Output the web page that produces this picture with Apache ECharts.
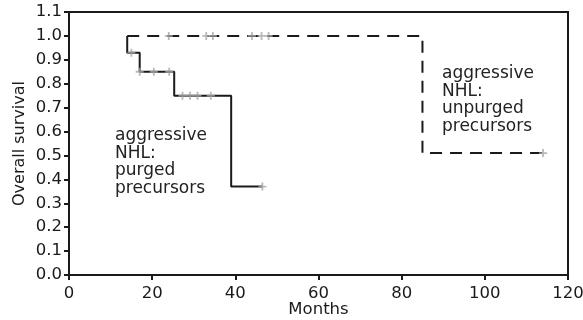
<!DOCTYPE html>
<html>
<head>
<meta charset="utf-8">
<script src="https://cdn.jsdelivr.net/npm/echarts@6/dist/echarts.min.js"></script>
<style>html,body{margin:0;padding:0;background:#fff}#c{width:583px;height:320px}</style>
</head>
<body>
<div id="c"></div>
<script>
// Kaplan-Meier steps [month, survival]
const purgedSteps = [[14, 1.0], [14, 0.93], [17, 0.85], [25.3, 0.75], [39, 0.37], [46.5, 0.37]];
const unpurgedSteps = [[14, 1.0], [85, 0.51], [114, 0.51]];
// censored observations
const purgedCensored = [[15, 0.93], [17, 0.85], [20.4, 0.85], [24.1, 0.85], [27.3, 0.75], [29.1, 0.75], [30.9, 0.75], [34.1, 0.75], [46.5, 0.37]];
const unpurgedCensored = [[24, 1.0], [33, 1.0], [34.6, 1.0], [44, 1.0], [46.3, 1.0], [48, 1.0], [114, 0.51]];
const xTicks = [0, 20, 40, 60, 80, 100, 120];

const FONT = 'DejaVu Sans';
const plus = 'path://M-0.9,-4H0.9V-0.9H4V0.9H0.9V4H-0.9V0.9H-4V-0.9H-0.9Z';
const chart = echarts.init(document.getElementById('c'), null, {renderer: 'canvas'});
chart.setOption({
  animation: false,
  grid: {left: 69, right: 15, top: 12, bottom: 45, show: true, borderColor: '#1a1a1a', borderWidth: 2,
         containLabel: false, outerBoundsMode: 'none'},
  xAxis: {
    type: 'value', min: 0, max: 120, interval: 20,
    name: 'Months', nameLocation: 'middle', nameGap: 26, nameMoveOverlap: false,
    nameTextStyle: {fontFamily: FONT, fontSize: 16.5, color: '#1a1a1a'},
    axisLine: {lineStyle: {color: '#1a1a1a', width: 2}},
    axisTick: {show: true, length: 5, lineStyle: {color: '#1a1a1a', width: 2}},
    axisLabel: {fontFamily: FONT, fontSize: 16.5, color: '#1a1a1a', margin: 10,
      formatter: v => xTicks.includes(v) ? String(v) : ''},
    splitLine: {show: false}
  },
  yAxis: {
    type: 'value', min: 0, max: 1.1, interval: 0.1,
    name: 'Overall survival', nameLocation: 'middle', nameGap: 41, nameMoveOverlap: false,
    nameTextStyle: {fontFamily: FONT, fontSize: 16, color: '#1a1a1a'},
    axisLine: {lineStyle: {color: '#1a1a1a', width: 2}},
    axisTick: {show: true, length: 5, lineStyle: {color: '#1a1a1a', width: 2}},
    axisLabel: {fontFamily: FONT, fontSize: 16.5, color: '#1a1a1a', margin: 7,
      formatter: v => v.toFixed(1)},
    splitLine: {show: false}
  },
  series: [
    {type: 'line', data: unpurgedSteps, step: 'end', symbol: 'none',
     lineStyle: {color: '#1a1a1a', width: 2, type: [12, 8]}, z: 2},
    {type: 'line', data: purgedSteps, step: 'end', symbol: 'none',
     lineStyle: {color: '#1a1a1a', width: 2}, z: 3},
    {type: 'scatter', data: purgedCensored.concat(unpurgedCensored), symbol: plus, symbolSize: 8,
     itemStyle: {color: '#a8a8a8'}, z: 5}
  ],
  graphic: [
    {type: 'text', left: 115, top: 127, style: {text: 'aggressive\nNHL:\npurged\nprecursors',
      font: '17px "DejaVu Sans"', fill: '#222', lineHeight: 17.5}},
    {type: 'text', left: 442, top: 65, style: {text: 'aggressive\nNHL:\nunpurged\nprecursors',
      font: '17px "DejaVu Sans"', fill: '#222', lineHeight: 17.5}}
  ]
});
</script>
</body>
</html>
